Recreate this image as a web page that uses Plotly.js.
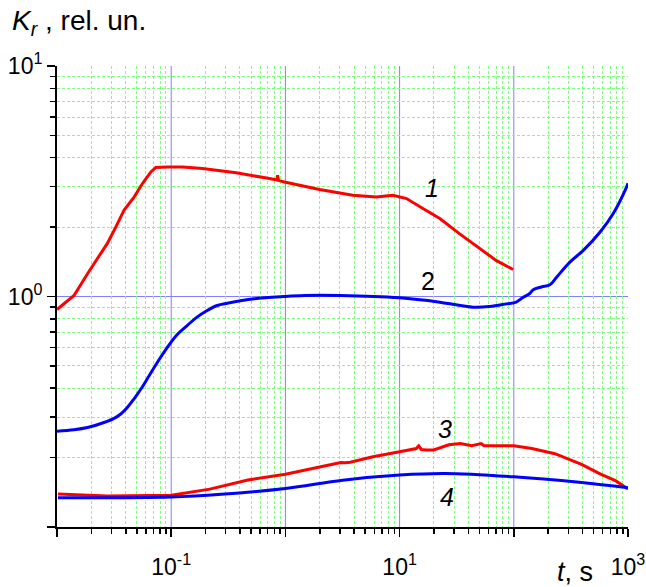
<!DOCTYPE html>
<html>
<head>
<meta charset="utf-8">
<script src="https://cdn.plot.ly/plotly-3.0.1.min.js"></script>
<style>html,body{margin:0;padding:0;background:#fff;}#chart{width:646px;height:587px;}</style>
</head>
<body>
<div id="chart"></div>
<script>
// Curve 1 (red, upper)
var t1 = [0.01, 0.0141, 0.0185, 0.0226, 0.0276, 0.0327, 0.0387, 0.0473, 0.056, 0.0664, 0.0734, 0.093, 0.126, 0.188, 0.37, 0.724, 0.84, 0.855, 0.87, 0.98, 1.99, 3.89, 6.25, 8.73, 11.5, 16.0, 22.5, 33.6, 50.3, 70.5, 98.6];
var k1 = [0.878, 1.01, 1.255, 1.46, 1.70, 2.0, 2.37, 2.70, 3.09, 3.47, 3.63, 3.65, 3.65, 3.59, 3.44, 3.25, 3.2, 3.36, 3.19, 3.14, 2.91, 2.75, 2.70, 2.75, 2.66, 2.41, 2.18, 1.87, 1.61, 1.43, 1.31];
// Curve 2 (blue, upper)
var t2 = [0.01, 0.0141, 0.0185, 0.0258, 0.0316, 0.0364, 0.0411, 0.0473, 0.0545, 0.0641, 0.0753, 0.0922, 0.113, 0.138, 0.166, 0.203, 0.253, 0.310, 0.535, 0.98, 1.47, 2.98, 10, 22.5, 44, 61.5, 86.3, 105, 120, 138, 148, 175, 207, 237, 310, 406, 568, 743, 973, 1000];
var k2 = [0.26, 0.264, 0.270, 0.284, 0.296, 0.310, 0.329, 0.360, 0.398, 0.453, 0.516, 0.600, 0.684, 0.748, 0.810, 0.865, 0.914, 0.935, 0.977, 1.0, 1.01, 1.01, 0.987, 0.945, 0.899, 0.905, 0.929, 0.945, 0.99, 1.03, 1.07, 1.10, 1.124, 1.213, 1.41, 1.585, 1.90, 2.29, 2.99, 3.1];
// Curve 3 (red, lower)
var t3 = [0.0102, 0.0277, 0.1, 0.218, 0.469, 1.0, 3.05, 3.3, 3.7, 5.85, 10, 14.0, 14.7, 15.5, 17.1, 19.9, 27, 34, 42.8, 51.8, 55, 73, 100, 144, 229, 392, 575, 783, 1000];
var k3 = [0.139, 0.1364, 0.1374, 0.146, 0.160, 0.1695, 0.1905, 0.190, 0.191, 0.2016, 0.212, 0.219, 0.225, 0.217, 0.216, 0.216, 0.2274, 0.230, 0.225, 0.230, 0.225, 0.225, 0.225, 0.219, 0.208, 0.187, 0.1695, 0.1585, 0.146];
// Curve 4 (blue, lower)
var t4 = [0.0102, 0.1, 0.275, 1.0, 3.18, 10, 25, 100, 392, 1000];
var k4 = [0.134, 0.135, 0.1387, 0.147, 0.1596, 0.168, 0.1706, 0.165, 0.156, 0.148];

var curveLabels = ['1', '2', '3', '4'];
var labelT = [19.1, 17.6, 24.8, 25.8];
var labelK = [2.95, 1.17, 0.267, 0.135];

var xTickVals = [0.01, 0.1, 1, 10, 100, 1000];
var xTickText = ['', '10<sup>-1</sup>', '', '10<sup>1</sup>', '', '10<sup>3</sup>'];
var yTickVals = [0.1, 1, 10];
var yTickText = ['', '10<sup>0</sup>', '10<sup>1</sup>'];

function minorVals(lo, hi) {
  var out = [];
  for (var e = lo; e < hi; e++) {
    for (var m = 2; m <= 9; m++) out.push(m * Math.pow(10, e));
  }
  return out;
}

var font = 'Liberation Sans, Arial, sans-serif';
var traces = [
  {x: t1, y: k1, mode: 'lines', line: {color: '#ff0000', width: 3}},
  {x: t2, y: k2, mode: 'lines', line: {color: '#0000ff', width: 3, shape: 'spline', smoothing: 1}},
  {x: t3, y: k3, mode: 'lines', line: {color: '#ff0000', width: 3}},
  {x: t4, y: k4, mode: 'lines', line: {color: '#0000ff', width: 3, shape: 'spline', smoothing: 1}}
];

var shapes = [];
[0.1, 1, 10, 100].forEach(function (v) {
  shapes.push({type: 'line', xref: 'x', yref: 'paper', x0: v, x1: v, y0: 0, y1: 1, layer: 'below',
    line: {color: '#7f7fff', width: 1}});
});
shapes.push({type: 'line', xref: 'paper', yref: 'y', x0: 0, x1: 1, y0: 1, y1: 1, layer: 'below',
  line: {color: '#7f7fff', width: 1}});

var annotations = curveLabels.map(function (s, i) {
  return {x: Math.log10(labelT[i]), y: Math.log10(labelK[i]), xref: 'x', yref: 'y', text: (s === '2' ? s : '<i>' + s + '</i>'),
    showarrow: false, font: {family: font, size: 25, color: '#000'}};
});
annotations.push({xref: 'paper', yref: 'paper', x: -0.083, y: 1.095, xanchor: 'left', yanchor: 'middle',
  text: '<i>K<sub>r</sub></i> , rel. un.', showarrow: false, font: {family: font, size: 28, color: '#000'}});
annotations.push({xref: 'paper', yref: 'paper', x: 0.907, y: -0.098, xanchor: 'center', yanchor: 'middle',
  text: '<i>t</i>, s', showarrow: false, font: {family: font, size: 27, color: '#000'}});

var layout = {
  width: 646, height: 587,
  margin: {l: 57, r: 18, t: 66, b: 60},
  paper_bgcolor: '#fff', plot_bgcolor: '#fff',
  showlegend: false,
  xaxis: {
    type: 'log', range: [-2, 3], tickmode: 'array', tickvals: xTickVals, ticktext: xTickText,
    showgrid: false, zeroline: false, showline: true, linecolor: '#000', linewidth: 2,
    ticks: 'outside', ticklen: 8, tickwidth: 1.5, tickcolor: '#000', ticklabelstandoff: 10,
    tickfont: {family: font, size: 23, color: '#000'},
    minor: {tickmode: 'array', tickvals: minorVals(-2, 3), ticks: 'outside', ticklen: 5, tickwidth: 1.5, tickcolor: '#000',
      showgrid: true, gridcolor: '#7fff7f', gridwidth: 1, griddash: '3px,2px'}
  },
  yaxis: {
    type: 'log', range: [-1, 1], tickmode: 'array', tickvals: yTickVals, ticktext: yTickText,
    showgrid: false, zeroline: false, showline: true, linecolor: '#000', linewidth: 2,
    ticks: 'outside', ticklen: 8, tickwidth: 1.5, tickcolor: '#000',
    tickfont: {family: font, size: 23, color: '#000'},
    minor: {tickmode: 'array', tickvals: minorVals(-1, 1), ticks: 'outside', ticklen: 5, tickwidth: 1.5, tickcolor: '#000',
      showgrid: true, gridcolor: '#7fff7f', gridwidth: 1, griddash: '3px,2px'}
  },
  shapes: shapes,
  annotations: annotations
};

Plotly.newPlot('chart', traces, layout, {displayModeBar: false, staticPlot: true});
</script>
</body>
</html>
